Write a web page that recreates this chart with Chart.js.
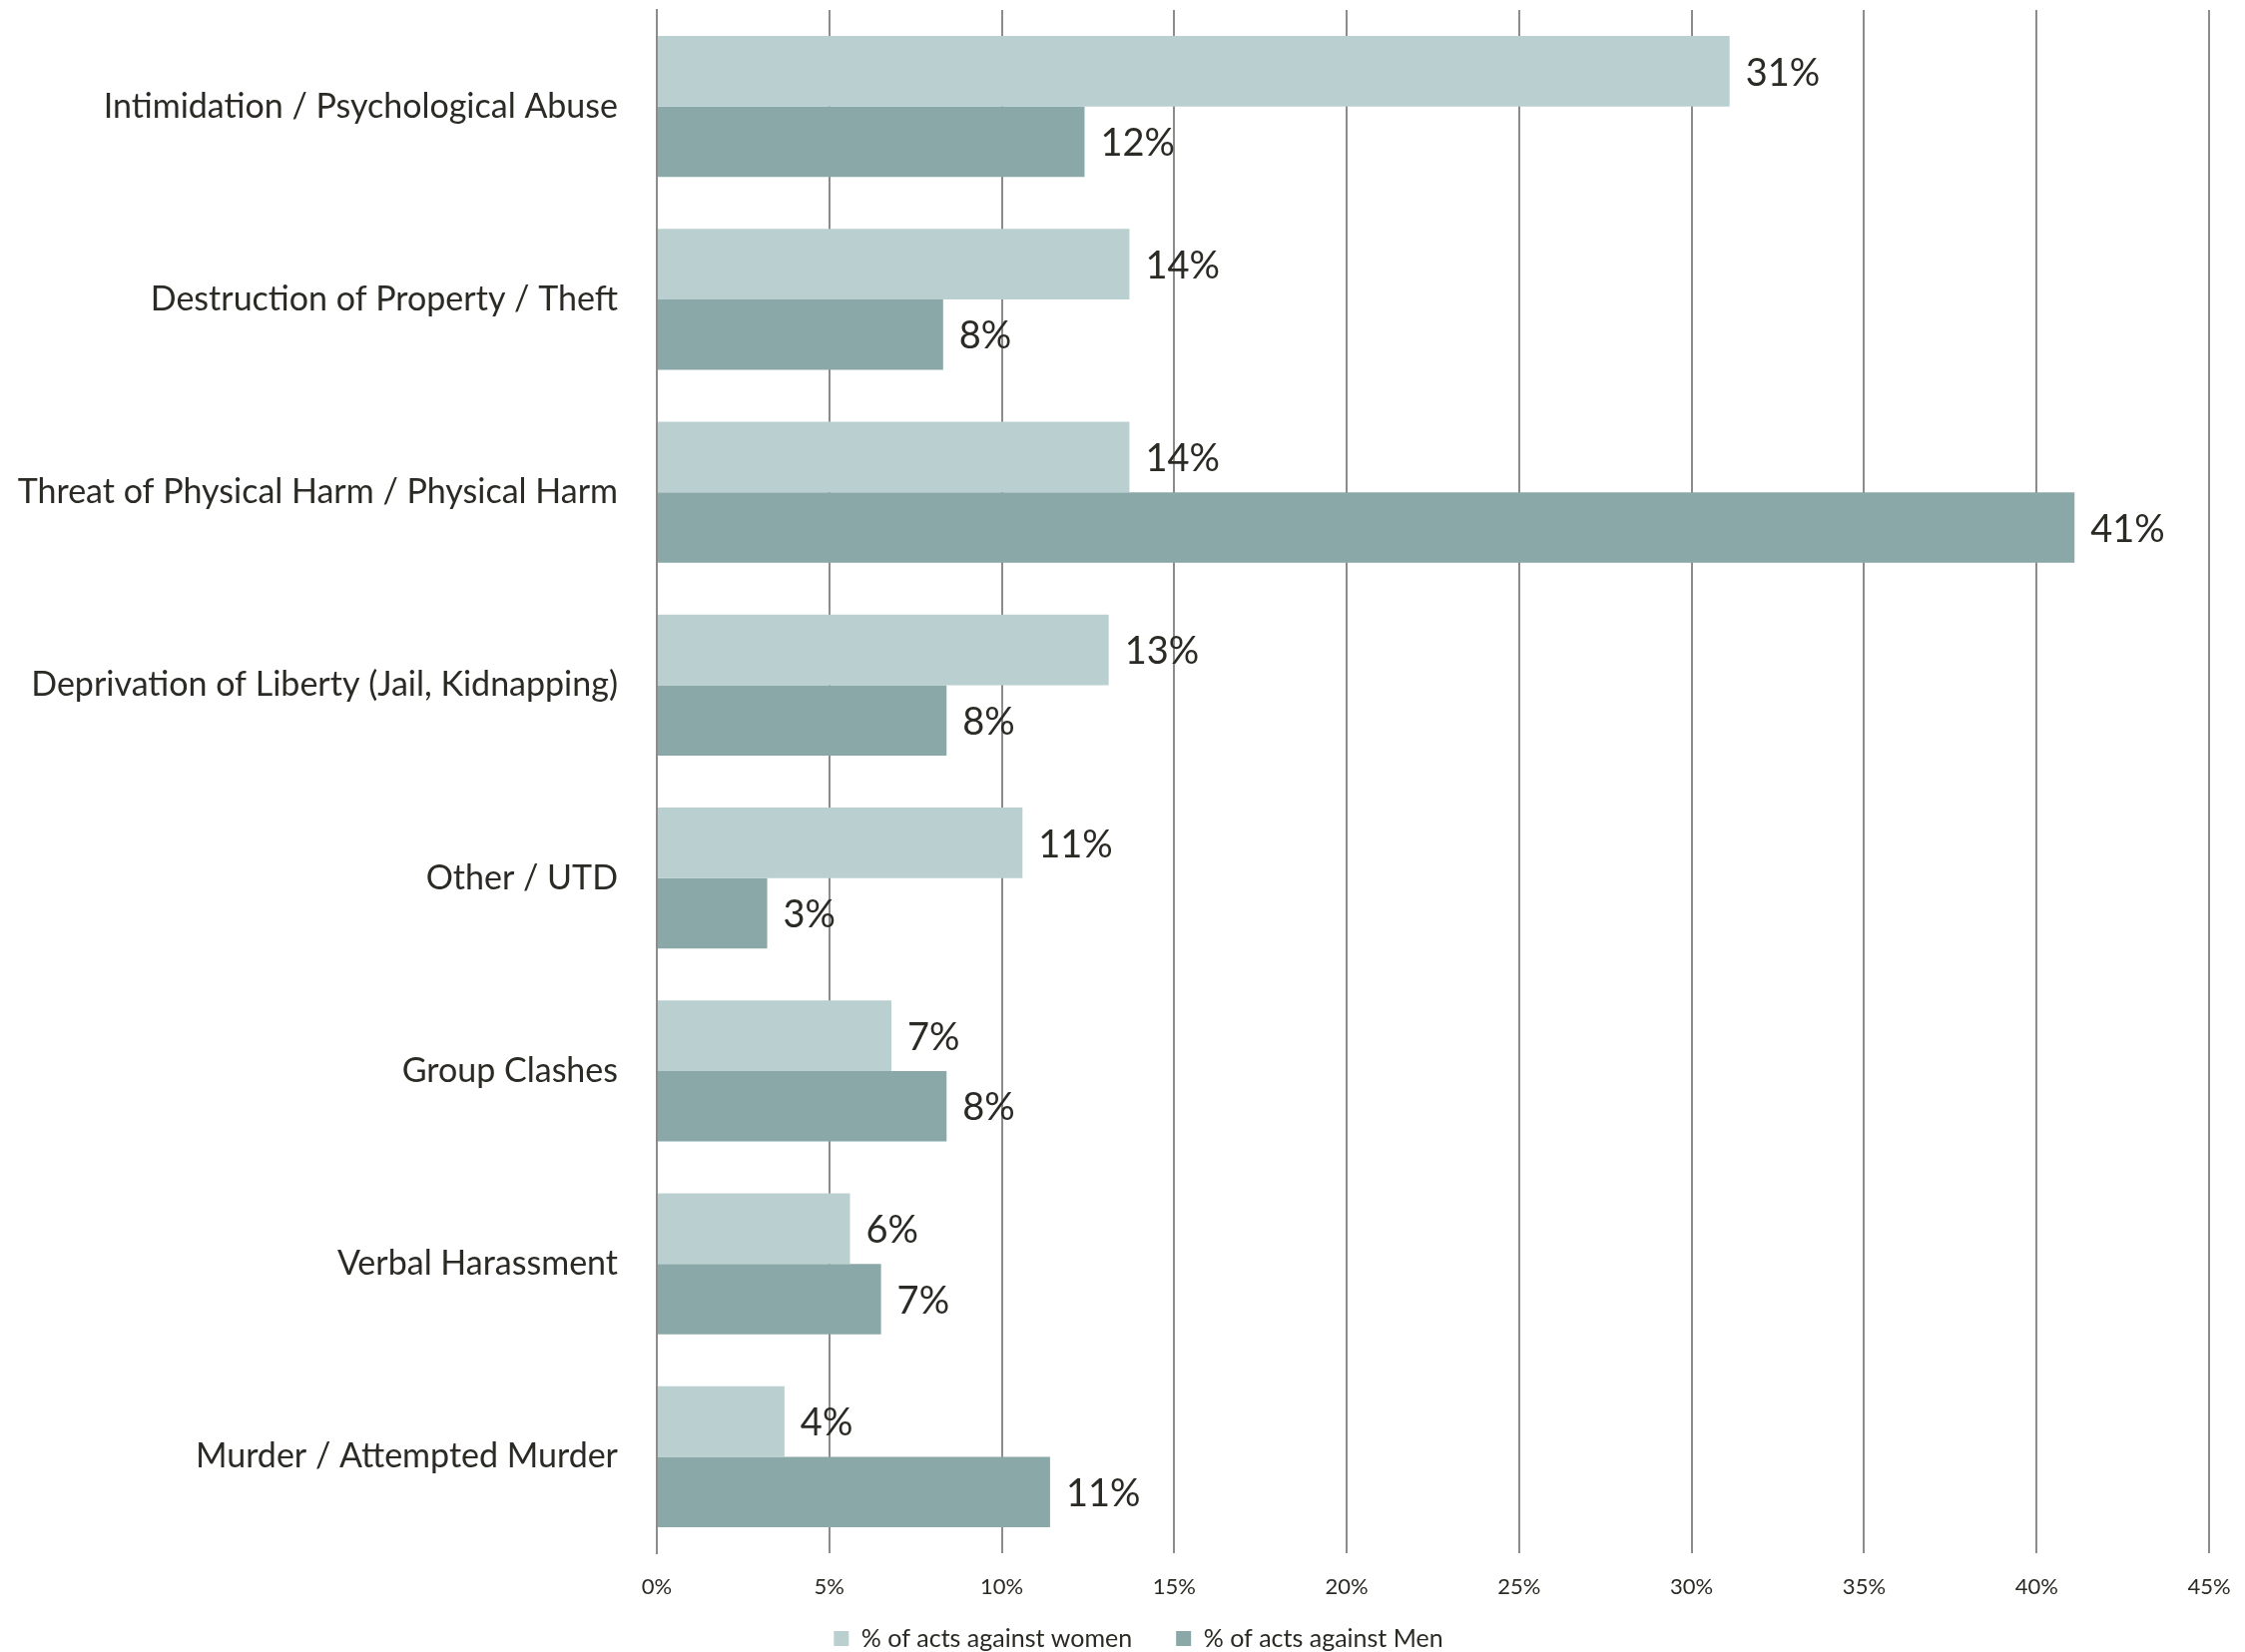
<!DOCTYPE html>
<html>
<head>
<meta charset="utf-8">
<script src="https://cdn.jsdelivr.net/npm/chart.js@4"></script>
<style>
  html, body { margin: 0; padding: 0; background: #fff; }
  #wrap { width: 2249px; height: 1655px; }
</style>
</head>
<body>
<div id="wrap"><canvas id="actsChart"></canvas></div>
<script>
const categories = [
  'Intimidation / Psychological Abuse',
  'Destruction of Property / Theft',
  'Threat of Physical Harm / Physical Harm',
  'Deprivation of Liberty (Jail, Kidnapping)',
  'Other / UTD',
  'Group Clashes',
  'Verbal Harassment',
  'Murder / Attempted Murder'
];
const womenValues = [31.1, 13.7, 13.7, 13.1, 10.6, 6.8, 5.6, 3.7];
const menValues = [12.4, 8.3, 41.1, 8.4, 3.2, 8.4, 6.5, 11.4];
const seriesNames = ['% of acts against women', '% of acts against Men'];
const xTicks = [0, 5, 10, 15, 20, 25, 30, 35, 40, 45];

const textColor = '#2b2a24';
const fontName = 'Lato';

// value labels at the end of each bar
const barLabels = {
  id: 'barLabels',
  afterDatasetsDraw(chart) {
    const ctx = chart.ctx;
    ctx.save();
    ctx.font = '38px ' + fontName;
    ctx.fillStyle = textColor;
    ctx.textBaseline = 'middle';
    ctx.textAlign = 'left';
    chart.data.datasets.forEach((ds, i) => {
      chart.getDatasetMeta(i).data.forEach((bar, j) => {
        ctx.fillText(Math.round(ds.data[j]) + '%', bar.x + 16, bar.y + 2);
      });
    });
    ctx.restore();
  }
};

// nudge the legend so it sits where the original has it
const legendNudge = {
  id: 'legendNudge',
  afterLayout(chart) {
    const lg = chart.legend;
    if (!lg) return;
    lg.top -= 31;
    lg.bottom -= 31;
    lg.left += 34;
    lg.right += 34;
  }
};

const actsChart = new Chart(document.getElementById('actsChart'), {
  type: 'bar',
  data: {
    labels: categories,
    datasets: [
      {
        label: seriesNames[0],
        data: womenValues,
        backgroundColor: '#b9cfd0',
        categoryPercentage: 0.73,
        barPercentage: 1
      },
      {
        label: seriesNames[1],
        data: menValues,
        backgroundColor: '#8aa8a7',
        categoryPercentage: 0.73,
        barPercentage: 1
      }
    ]
  },
  options: {
    indexAxis: 'y',
    responsive: true,
    maintainAspectRatio: false,
    animation: false,
    layout: { padding: { top: 10, right: 36, bottom: -40, left: 0 } },
    scales: {
      x: {
        min: 0,
        max: 45,
        afterBuildTicks: (scale) => { scale.ticks = xTicks.map(v => ({ value: v })); },
        grid: { color: '#8c8c8c', lineWidth: 2, drawTicks: false },
        border: { display: false },
        ticks: {
          callback: (v) => v + '%',
          color: textColor,
          font: { family: fontName, size: 22 },
          padding: 21
        },
        afterFit: (scale) => {
          scale.height = 60;
          scale.paddingLeft = 0;
          scale.paddingRight = 0;
        }
      },
      y: {
        grid: { display: false },
        border: { display: true, color: '#8c8c8c', width: 2 },
        ticks: {
          color: textColor,
          font: { family: fontName, size: 34 },
          padding: 31
        },
        afterFit: (scale) => {
          scale.width = 658;
          scale.paddingTop = 0;
          scale.paddingBottom = 0;
        }
      }
    },
    plugins: {
      legend: {
        position: 'bottom',
        labels: {
          color: textColor,
          font: { family: fontName, size: 25 },
          boxWidth: 15,
          boxHeight: 15,
          padding: 44
        }
      },
      tooltip: { enabled: false }
    }
  },
  plugins: [barLabels, legendNudge]
});
</script>
</body>
</html>
